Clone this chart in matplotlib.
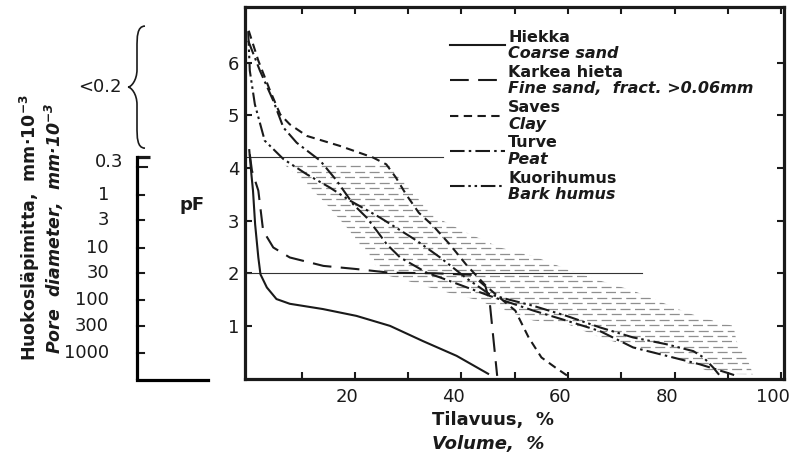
import numpy as np
import matplotlib
matplotlib.use("Agg")
import matplotlib.pyplot as plt
import matplotlib.transforms as mtransforms
from matplotlib.path import Path
from matplotlib.patches import PathPatch, Polygon
from matplotlib.lines import Line2D

# -----------------------------------------------------------------------------
# Vedenpidätyskäyrät: pF vs. tilavuus-%
# -----------------------------------------------------------------------------
hiekka_x = [0.2, 0.6, 0.9, 1.3, 1.9, 2.3, 3.5, 5.3, 7.8, 14.0, 20.3, 26.6, 32.8, 39.1, 45.0]
hiekka_y = [4.34, 3.88, 3.57, 2.93, 2.30, 1.98, 1.73, 1.51, 1.42, 1.32, 1.19, 1.00, 0.71, 0.43, 0.09]

karkea_x = [0.3, 0.7, 1.9, 2.8, 4.7, 7.8, 14.1, 20.3, 26.6, 35.0, 42.0, 44.5, 45.3, 46.7]
karkea_y = [4.26, 3.95, 3.57, 2.81, 2.49, 2.30, 2.14, 2.08, 2.01, 2.00, 1.97, 1.75, 1.45, 0.05]

saves_x = [0.1, 1.9, 4.1, 6.0, 7.8, 11.0, 17.2, 23.4, 25.9, 27.7, 29.6, 32.0, 34.7,
           37.8, 41.0, 44.7, 47.0, 50.1, 52.6, 55.0, 57.6, 60.2]
saves_y = [6.61, 6.04, 5.47, 5.02, 4.83, 4.61, 4.42, 4.20, 4.07, 3.82, 3.50, 3.15, 2.90,
           2.55, 2.15, 1.75, 1.55, 1.29, 0.78, 0.40, 0.21, 0.03]

turve_x = [0.0, 2.2, 4.7, 6.6, 9.1, 13.5, 16.6, 19.7, 22.2, 24.1, 26.0, 28.5, 33.5, 36.0,
           45.3, 53.5, 59.7, 66.0, 72.2, 78.5, 84.7, 89.8, 91.6]
turve_y = [6.42, 5.85, 5.28, 4.77, 4.48, 4.14, 3.76, 3.31, 3.06, 2.81, 2.55, 2.30, 2.01, 1.92,
           1.57, 1.29, 1.10, 0.90, 0.59, 0.43, 0.27, 0.11, 0.05]

kuori_x = [0.0, 0.3, 1.25, 3.1, 6.6, 11.0, 15.3, 19.1, 24.7, 31.6, 36.0, 41.0, 45.3, 48.5,
           53.5, 59.7, 66.0, 72.2, 78.5, 83.5, 85.4, 87.2, 88.5]
kuori_y = [6.60, 5.85, 5.21, 4.52, 4.17, 3.88, 3.63, 3.38, 3.06, 2.62, 2.30, 1.90, 1.60, 1.51,
           1.38, 1.19, 0.97, 0.78, 0.65, 0.52, 0.40, 0.21, 0.05]

# Viivoitettu vyöhyke (yläreuna vasemmalta oikealle, alareuna takaisin)
band_top_x = [6.6, 26.6, 29.7, 32.8, 35.3, 41.0, 47.2, 53.4, 59.7, 66.0, 72.2, 78.5, 82.3,
              87.2, 91.0, 91.6, 93.5, 94.7]
band_top_y = [4.08, 4.08, 3.69, 3.31, 3.06, 2.77, 2.49, 2.33, 2.08, 1.86, 1.67, 1.41, 1.25,
              1.10, 1.00, 0.71, 0.40, 0.08]
band_bot_x = [87.2, 84.7, 78.5, 72.2, 66.0, 59.7, 53.5, 42.2, 36.0, 29.7, 25.3, 21.6, 18.5,
              14.7, 11.0]
band_bot_y = [0.09, 0.21, 0.43, 0.59, 0.78, 1.04, 1.10, 1.51, 1.67, 1.86, 1.98, 2.43, 2.87,
              3.31, 3.69]

# Vaakaviivat: lakastumisraja pF 4.2 ja kenttäkapasiteetti pF 2
ref_pf = [4.2, 2.0]
ref_len = [36.5, 73.9]

# Huokosläpimitta-asteikko (mm·10^-3)
diam = [0.3, 1, 3, 10, 30, 100, 300, 1000]
diam_labels = ["0.3", "1", "3", "10", "30", "100", "300", "1000"]

xtick_vals = [10, 20, 30, 40, 50, 60, 70, 80, 90, 100]
xtick_labels = ["", "20", "", "40", "", "60", "", "80", "", "100"]
ytick_vals = [1, 2, 3, 4, 5, 6]

legend_fi = ["Hiekka", "Karkea hieta", "Saves", "Turve", "Kuorihumus"]
legend_en = ["Coarse sand", "Fine sand,  fract. >0.06mm", "Clay", "Peat", "Bark humus"]

# -----------------------------------------------------------------------------
W, H = 796, 455
INK = "#1a1a1a"
fig = plt.figure(figsize=(W / 100, H / 100), dpi=100)
PX = mtransforms.Affine2D().scale(1 / W, -1 / H).translate(0, 1) + fig.transFigure

ax = fig.add_axes([245 / W, (H - 378.5) / H, (784 - 245) / W, (378.5 - 7) / H])
ax.set_xlim(-0.6, 100.5)
ax.set_ylim(0, 7.06)

styles = [
    dict(ls="-"),
    dict(ls=(0, (9, 4.5))),
    dict(ls=(0, (4, 2.6))),
    dict(ls=(0, (7, 2, 1.2, 2))),
    dict(ls=(0, (7, 1.8, 1.2, 1.8, 1.2, 1.8))),
]
series = [(hiekka_x, hiekka_y), (karkea_x, karkea_y), (saves_x, saves_y),
          (turve_x, turve_y), (kuori_x, kuori_y)]

# viivoitus
band = Polygon(np.column_stack([band_top_x + band_bot_x, band_top_y + band_bot_y]),
               closed=True, facecolor="none", edgecolor="none")
ax.add_patch(band)
for i, yy in enumerate(np.arange(0.08, 4.1, 0.104)):
    ln, = ax.plot([-1, 101], [yy, yy], color="#8f8f8f", lw=0.9,
                  ls=((i % 3) * 3.5, (8, 3.6)), zorder=1)
    ln.set_clip_path(band)

for yv, xl in zip(ref_pf, ref_len):
    ax.plot([-0.6, xl], [yv, yv], color="#333333", lw=0.8, zorder=2)

for (xs, ys), st in zip(series, styles):
    ax.plot(xs, ys, color=INK, lw=1.5, zorder=3, **st)

ax.set_xticks(xtick_vals)
ax.set_xticklabels(xtick_labels)
ax.set_yticks(ytick_vals)
ax.tick_params(direction="in", length=5, width=1.5, top=True, right=True,
               labelsize=13, colors=INK)
ax.tick_params(axis="x", pad=7)
ax.tick_params(axis="y", pad=4)
shift = mtransforms.ScaledTranslation(-8 / 100, 0, fig.dpi_scale_trans)
for lab in ax.get_xticklabels():
    lab.set_transform(lab.get_transform() + shift)
for sp in ax.spines.values():
    sp.set_linewidth(2.3)
    sp.set_color(INK)

# legenda
for k in range(5):
    yl = 45 + k * 35.3
    fig.add_artist(Line2D([450, 505], [yl, yl], transform=PX, color=INK, lw=1.5,
                          **styles[k]))
    fig.text(508, yl - 8, legend_fi[k], transform=PX, fontsize=11.5, fontweight="bold",
             va="center", ha="left", color=INK)
    fig.text(508, yl + 8.5, legend_en[k], transform=PX, fontsize=11.5, fontweight="bold",
             style="italic", va="center", ha="left", color=INK)

fig.text(432, 420, "Tilavuus,  %", transform=PX, fontsize=13, fontweight="bold",
         va="center", ha="left", color=INK)
fig.text(432, 444, "Volume,  %", transform=PX, fontsize=13, fontweight="bold",
         style="italic", va="center", ha="left", color=INK)

# -----------------------------------------------------------------------------
# Huokosläpimitta-akseli vasemmalla
# -----------------------------------------------------------------------------
ax2 = fig.add_axes([137 / W, (H - 380) / H, 71 / W, (380 - 7) / H])
ax2.set_ylim(-1.5 / 52.6, 7.06 - 1.5 / 52.6)
ax2.set_xlim(0, 1)
ax2.patch.set_alpha(0)
for s in ("top", "right"):
    ax2.spines[s].set_visible(False)
ax2.spines["left"].set_bounds(0, 4.2)
ax2.spines["left"].set_linewidth(2.3)
ax2.spines["bottom"].set_linewidth(2.3)
ax2.set_xticks([])
ax2.set_yticks([])

pf_pos = np.log10(3000 / np.array(diam))
xblend = mtransforms.blended_transform_factory(
    mtransforms.Affine2D().scale(1 / W, 1) + fig.transFigure, ax2.transData)
ax2.plot([137, 150], [4.2, 4.2], transform=xblend, color=INK, lw=2.3,
         solid_capstyle="butt", clip_on=False)
for j, (p, lab) in enumerate(zip(pf_pos, diam_labels)):
    tick_end = 147 if j == 0 else 144
    ax2.plot([137, tick_end], [p, p], transform=xblend, color=INK, lw=1.5,
             clip_on=False)
    ax2.text(123 if j == 0 else 109, p + (0.1 if j == 0 else 0), lab, transform=xblend,
             fontsize=13, ha="right", va="center", color=INK)

ax2.text(192, 3.28, "pF", transform=xblend, fontsize=13, fontweight="bold",
         ha="center", va="center", color=INK)

# aaltosulje (< 0.2)
y_lo, y_hi = 4.36, 6.67
ym = (y_lo + y_hi) / 2
q = 0.09 * (y_hi - y_lo)
xm, xr, xt = 137, 145, 128
verts = [(xr, y_hi), (xm, y_hi), (xm, y_hi - q), (xm, y_hi - 2 * q),
         (xm, ym + 1.6 * q),
         (xm, ym + 0.6 * q), (xt + 3, ym), (xt, ym),
         (xt + 3, ym), (xm, ym - 0.6 * q), (xm, ym - 1.6 * q),
         (xm, y_lo + 2 * q),
         (xm, y_lo + q), (xm, y_lo), (xr, y_lo)]
codes = [Path.MOVETO, Path.CURVE4, Path.CURVE4, Path.CURVE4, Path.LINETO,
         Path.CURVE4, Path.CURVE4, Path.CURVE4, Path.CURVE4, Path.CURVE4, Path.CURVE4,
         Path.LINETO, Path.CURVE4, Path.CURVE4, Path.CURVE4]
ax2.add_patch(PathPatch(Path(verts, codes), transform=xblend, facecolor="none",
                        edgecolor=INK, lw=1.2, clip_on=False))
ax2.text(122, ym, "<0.2", transform=xblend, fontsize=13, ha="right", va="center",
         color=INK)

sup = r"$^{\mathregular{-3}}$"
fig.text(30, 228, "Huokosläpimitta,  mm·10" + sup, transform=PX, rotation=90,
         fontsize=12.5, fontweight="bold", ha="center", va="center", color=INK)
fig.text(54, 228, "Pore  diameter,  mm·10" + sup, transform=PX, rotation=90,
         fontsize=12.5, fontweight="bold", style="italic", ha="center", va="center",
         color=INK)

fig.savefig("out.png", dpi=100)
